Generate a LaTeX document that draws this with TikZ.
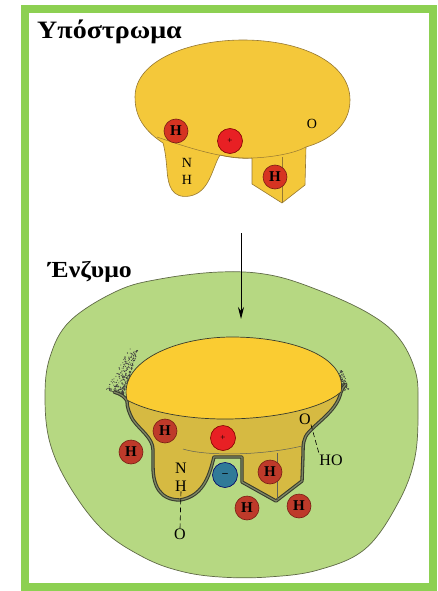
\documentclass[tikz,border=0pt]{standalone}
\usepackage{fontspec}
\setmainfont{Liberation Serif}
\newfontfamily\headfont[FakeStretch=1.12]{Liberation Serif}
\usetikzlibrary{arrows.meta}

\definecolor{frameG}{RGB}{141,208,82}
\definecolor{blobG}{RGB}{182,216,130}
\definecolor{blobEdge}{RGB}{95,105,70}
\definecolor{subY}{RGB}{244,200,58}
\definecolor{subEdge}{RGB}{150,120,50}
\definecolor{capY}{RGB}{250,204,50}
\definecolor{pocketY}{RGB}{214,186,66}
\definecolor{rimDark}{RGB}{55,58,45}
\definecolor{rimMid}{RGB}{125,134,100}
\definecolor{hRed}{RGB}{190,58,42}
\definecolor{hRedUp}{RGB}{214,52,34}
\definecolor{hRedDark}{RGB}{120,30,20}
\definecolor{plusRed}{RGB}{232,32,36}
\definecolor{minusBlue}{RGB}{48,122,152}

\tikzset{
  atomH/.style={circle, fill=hRed, draw=hRedDark, line width=0.6pt,
    minimum size=24pt, inner sep=0pt, font=\bfseries\fontsize{15}{15}\selectfont},
  atomHup/.style={atomH, fill=hRedUp},
  atomPlus/.style={circle, fill=plusRed, draw=red!50!black, line width=0.6pt,
    minimum size=25pt, inner sep=0pt, font=\fontsize{9}{9}\selectfont},
  atomMinus/.style={circle, fill=minusBlue, draw=blue!40!black, line width=0.6pt,
    minimum size=25pt, inner sep=0pt, font=\bfseries\fontsize{11}{11}\selectfont},
  chem/.style={inner sep=0pt, font=\fontsize{16}{16}\selectfont},
  chemup/.style={inner sep=0pt, font=\fontsize{14}{14}\selectfont},
  title/.style={anchor=base west, inner sep=0pt},
  thinrim/.style={draw=subEdge, line width=0.5pt},
  bond/.style={line width=0.6pt, dash pattern=on 5pt off 3pt},
  grain/.style={fill=black!75},
}

\begin{document}
\begin{tikzpicture}[x=1pt,y=-1pt]
\useasboundingbox (0,0) rectangle (438,591);

% outer frame
\draw[frameG, line width=8pt] (25,9) rectangle (433,587);

% ---------------- free substrate ----------------
\node[title, font=\headfont\bfseries\fontsize{25}{25}\selectfont] (subTitle) at (37,39) {Υπόστρωμα};

\path[fill=subY, draw=subEdge, line width=0.6pt]
  (163,143) .. controls (140,128) and (135,112) .. (135,97)
  .. controls (135,60) and (190,40) .. (243,40)
  .. controls (300,40) and (350,62) .. (350,100)
  .. controls (350,125) and (330,140) .. (306,147)
  -- (305,185) -- (282,203) -- (252,184) -- (252,158)
  .. controls (240,159) and (228,157) .. (220,155)
  .. controls (212,168) and (210,192) .. (190,196)
  .. controls (172,199) and (168,186) .. (167,170)
  .. controls (166,158) and (165,150) .. (163,143) -- cycle;
% lower rim of the substrate cap and front edge of its right lobe
\draw[thinrim] (157,137) .. controls (200,152) and (228,159) .. (253,158)
  .. controls (275,157) and (295,153) .. (306,147);
\draw[thinrim] (282,157) -- (282,203);

\node[atomHup] (sH1) at (176,131) {H};
\node[atomPlus] (sPlus) at (230,141) {+};
\node[atomHup] (sH2) at (275,177) {H};
\node[chemup] (sO) at (312,124) {O};
\node[chemup] (sN) at (187,163) {N};
\node[chemup] (sNH) at (187,180) {H};

% ---------------- enzyme with bound substrate ----------------
\node[title, font=\headfont\bfseries\fontsize{23}{23}\selectfont] (enzTitle) at (48,277) {Ένζυμο};

\draw[fill=blobG, draw=blobEdge, line width=0.7pt]
  plot[smooth cycle, tension=0.62] coordinates {
  (45,397) (50,357) (70,321) (117,291) (160,279) (220,272) (270,275)
  (318,290) (368,313) (398,337) (415,370) (418,403) (415,457) (398,503)
  (365,549) (318,570) (268,577) (220,577) (180,571) (143,557) (103,530)
  (70,487) (50,443)};

% binding arrow
\coordinate (arrTail) at (241,233);
\coordinate (arrHead) at (241,319);
\draw[line width=0.8pt, -{Stealth[length=12pt,width=6pt]}] (arrTail) -- (arrHead);

% stippled shading where the substrate sinks into the enzyme
\pgfmathsetseed{11}
\foreach \i in {1,...,340} {
  \pgfmathsetmacro\tpos{rnd^1.7}
  \pgfmathsetmacro\dist{18*rnd^1.6*(1-0.55*\tpos)}
  \fill[grain] ({123+15*\tpos-0.92*\dist},{396-46*\tpos-0.38*\dist}) circle (0.55pt);
}
\foreach \i in {1,...,110} {
  \pgfmathsetmacro\tpos{rnd^1.5}
  \pgfmathsetmacro\dist{7*rnd^1.5*(1-0.5*\tpos)}
  \fill[grain] ({342-3*\tpos+\dist},{391-20*\tpos-0.3*\dist}) circle (0.55pt);
}

% pocket part of the bound substrate
\path[fill=pocketY]
  (127,400) .. controls (145,410) and (180,419) .. (225,419)
  .. controls (270,419) and (320,410) .. (341,392)
  .. controls (337,410) and (320,420) .. (309,432)
  .. controls (303,438) and (303,445) .. (303,455) -- (302,481) -- (276,501)
  -- (242,482) -- (242,457) -- (214,457)
  .. controls (210,472) and (205,496) .. (180,500)
  .. controls (160,500) and (153,486) .. (153,466) -- (153,450)
  .. controls (153,438) and (140,430) .. (133,420)
  .. controls (129,413) and (127,407) .. (127,400) -- cycle;

% rim of the binding site
\path[draw=rimDark, line width=3.4pt, line join=round, line cap=round, fill=none,
      postaction={draw=rimMid, line width=1.3pt, line join=round}]
  (114,392) .. controls (121,394) and (125,397) .. (127,401)
  .. controls (127,407) and (129,413) .. (133,420)
  .. controls (140,430) and (153,438) .. (153,450) -- (153,466)
  .. controls (153,486) and (160,500) .. (180,500)
  .. controls (205,496) and (210,472) .. (214,457) -- (242,457)
  -- (242,482) -- (276,501) -- (302,481) -- (303,455)
  .. controls (303,445) and (303,438) .. (309,432)
  .. controls (320,420) and (337,410) .. (341,392)
  .. controls (342,389) and (344,386) .. (346,384);

% exposed cap of the bound substrate
\path[fill=capY, draw=rimDark, line width=0.7pt]
  (127,400) .. controls (118,362) and (175,337) .. (232,337)
  .. controls (290,337) and (348,356) .. (341,392)
  .. controls (320,410) and (270,419) .. (225,419)
  .. controls (180,419) and (145,410) .. (127,400) -- cycle;

% underside edge of the substrate and front edge of its right lobe
\draw[draw=rimDark!80, line width=0.5pt]
  (183,449) .. controls (205,456) and (260,456) .. (302,446);
\draw[draw=rimDark!80, line width=0.5pt] (277,453) -- (277,500);

% groups on the substrate and in the enzyme
\node[atomH] (eH1) at (165,431) {H};
\node[atomH] (eH2) at (131,452) {H};
\node[atomPlus] (ePlus) at (223,438) {+};
\node[atomMinus] (eMinus) at (225,475) {–};
\node[atomH] (eH3) at (270,472) {H};
\node[atomH] (eH4) at (247,508) {H};
\node[atomH] (eH5) at (299,506) {H};

\node[chem] (eO) at (305,419) {O};
\node[chem] (eHO) at (331,460) {HO};
\node[chem] (eN) at (181,468) {N};
\node[chem] (eNH) at (181,486) {H};
\node[chem] (eO2) at (180,534) {O};

% hydrogen bonds
\draw[bond] (eO.south east) -- (eHO.north west);
\draw[bond] (eNH.south) -- (eO2.north);

\end{tikzpicture}
\end{document}
